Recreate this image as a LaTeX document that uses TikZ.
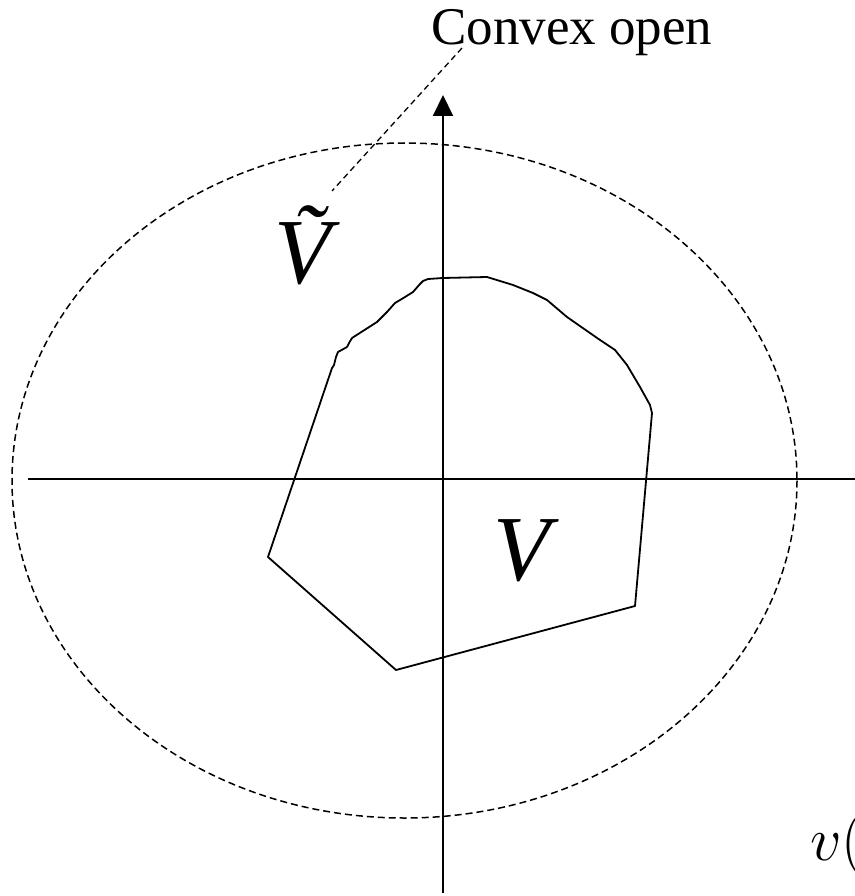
\documentclass[tikz,border=0pt]{standalone}
\usepackage{fix-cm}
\usepackage{fontspec}
\newfontfamily\timesfont{Liberation Serif}
\usetikzlibrary{arrows.meta}
\begin{document}
\begin{tikzpicture}[x=1pt,y=-1pt,
  axis/.style={line width=2pt},
  dashline/.style={line width=1.5pt,dash pattern=on 7pt off 4pt},
  region/.style={line width=1.8pt,line join=round},
  biglabel/.style={inner sep=0pt,font=\timesfont\itshape\fontsize{93}{93}\selectfont},
  txtlabel/.style={inner sep=0pt,font=\timesfont\fontsize{53}{53}\selectfont}]
\useasboundingbox (0,0) rectangle (854,896);
% axes
\coordinate (xl) at (28,479);
\coordinate (xr) at (856,479);
\coordinate (yb) at (443,893);
\coordinate (yt) at (443,95);
\draw[axis] (xl) -- (xr);
\draw[axis,-{Triangle[length=21pt,width=20pt]}] (yb) -- (yt);
% dashed ellipse
\draw[dashline] (404.5,480.5) ellipse [x radius=392.5, y radius=337.5];
% region V
\draw[region] (268,557) -- (396,670) -- (635,606) -- (652,413)
  -- (650,405) -- (640,387) -- (627,365) -- (615,350) -- (600,340) -- (567,317) -- (547,300)
  -- (533,293) -- (513,285) -- (487,277) -- (443,278) -- (428,279) -- (423,281) -- (420,284)
  -- (413,292) -- (405,297) -- (395,303) -- (387,312) -- (377,322) -- (352,338) -- (349,343)
  -- (347,347) -- (338,352) -- (336,357) -- (334,365) -- (332,368) -- cycle;
% labels
\node[biglabel,anchor=base] (V) at (522,580) {V};
\node[biglabel,anchor=base] (Vt) at (303,283) {\~{V}};
\node[txtlabel,anchor=base west] (conv) at (431,45) {Convex open};
\coordinate (leadtop) at (462,48);
\coordinate (leadbot) at (332,191);
\draw[dashline,line width=1.3pt,dash pattern=on 6pt off 4pt] (leadtop) -- (leadbot);
\node[inner sep=0pt,anchor=base west,font=\fontsize{62}{62}\selectfont] (vv) at (810,860) {$v($};
\end{tikzpicture}
\end{document}
